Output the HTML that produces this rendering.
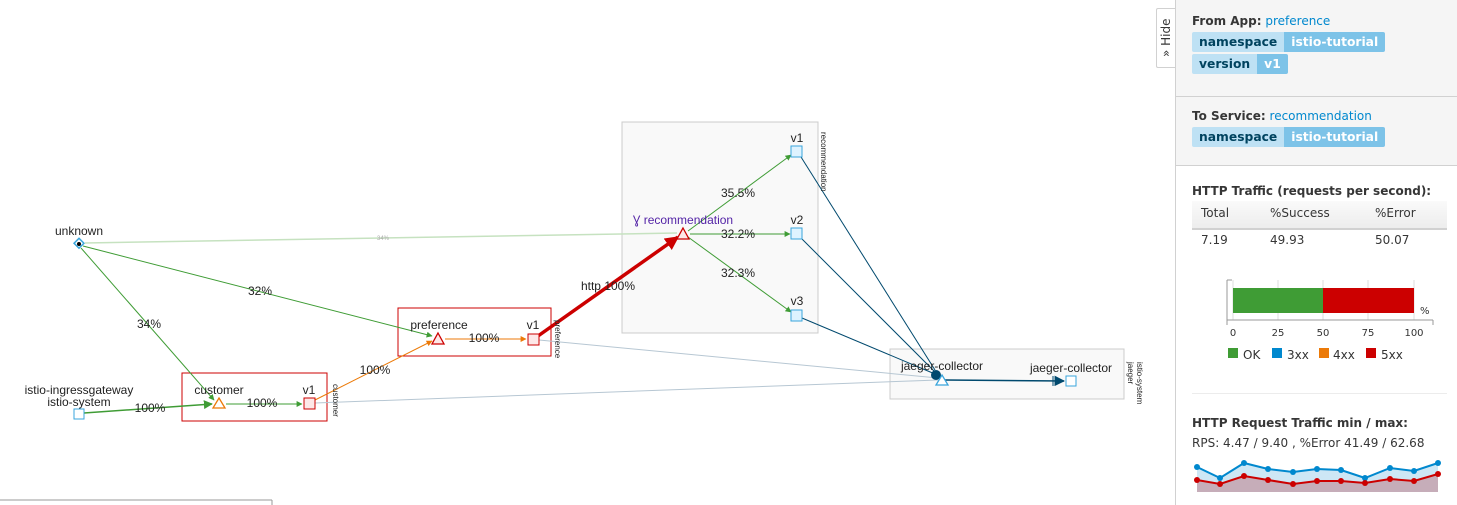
<!DOCTYPE html>
<html><head><meta charset="utf-8"><style>
body{margin:0;width:1457px;height:505px;overflow:hidden;background:#fff;font-family:"Liberation Sans","DejaVu Sans",sans-serif;position:relative}
#panel{position:absolute;left:1175px;top:0;width:282px;height:505px;border-left:1px solid #d1d1d1;font-family:"DejaVu Sans",sans-serif;font-size:12px;color:#363636}
.sec{background:#f5f5f5;border-bottom:1px solid #d1d1d1;padding:14px 0 0 16px;box-sizing:border-box}
.b{font-weight:bold}
.lnk{color:#0088ce}
.lab{display:inline-flex;font-weight:bold;font-size:12.3px;margin-top:4px;border-radius:2px;overflow:hidden}
.lab span{padding:3px 7px 3px 7px}
.k{background:#bee1f4;color:#00435f}.v{background:#7dc3e8;color:#fff}
</style></head><body>
<svg width="1175" height="505" style="position:absolute;left:0;top:0" font-family="Liberation Sans,sans-serif" font-size="12">
<defs>
<marker id="ag" viewBox="0 0 10 10" refX="9" refY="5" markerWidth="6" markerHeight="6" orient="auto"><path d="M0,0L10,5L0,10z" fill="#3f9c35"/></marker>
<marker id="ao" viewBox="0 0 10 10" refX="9" refY="5" markerWidth="6" markerHeight="6" orient="auto"><path d="M0,0L10,5L0,10z" fill="#ec7a08"/></marker>
<marker id="ar" viewBox="0 0 10 10" refX="9" refY="5" markerWidth="4" markerHeight="4" orient="auto"><path d="M0,0L10,5L0,10z" fill="#cc0000"/></marker>
<marker id="ab" viewBox="0 0 10 10" refX="9" refY="5" markerWidth="7" markerHeight="7" orient="auto"><path d="M0,0L10,5L0,10z" fill="#00496e"/></marker>
</defs>
<rect x="622" y="122" width="196" height="211" fill="#f9f9f9" stroke="#ccc"/>
<rect x="890" y="349" width="234" height="50" fill="#f9f9f9" stroke="#ccc"/>
<rect x="398" y="308" width="153" height="48" fill="#fff" stroke="#cc0000"/>
<rect x="182" y="373" width="145" height="48" fill="#fff" stroke="#cc0000"/>
<line x1="0" y1="500" x2="272" y2="500" stroke="#999"/>
<line x1="272" y1="500" x2="272" y2="505" stroke="#999"/>
<line x1="85" y1="243" x2="677" y2="233" stroke="#c6e2c0" stroke-width="1.5"/>
<text x="377" y="240" font-size="6" fill="#aaa">34%</text>
<line x1="83" y1="246" x2="432" y2="336" stroke="#3f9c35" marker-end="url(#ag)"/>
<line x1="81" y1="248" x2="214" y2="400" stroke="#3f9c35" marker-end="url(#ag)"/>
<line x1="84" y1="413" x2="212" y2="404" stroke="#3f9c35" stroke-width="1.5" marker-end="url(#ag)"/>
<line x1="226" y1="404" x2="302" y2="404" stroke="#3f9c35" marker-end="url(#ag)"/>
<line x1="315" y1="400" x2="432" y2="341" stroke="#ec7a08" marker-end="url(#ao)"/>
<line x1="445" y1="339" x2="526" y2="339" stroke="#ec7a08" marker-end="url(#ao)"/>
<line x1="538" y1="336" x2="678" y2="237" stroke="#cc0000" stroke-width="3.5" marker-end="url(#ar)"/>
<line x1="688" y1="231" x2="791" y2="155" stroke="#3f9c35" marker-end="url(#ag)"/>
<line x1="690" y1="234" x2="790" y2="234" stroke="#3f9c35" marker-end="url(#ag)"/>
<line x1="688" y1="237" x2="791" y2="312" stroke="#3f9c35" marker-end="url(#ag)"/>
<line x1="539" y1="340" x2="938" y2="378" stroke="#b7c7d3"/>
<line x1="315" y1="403" x2="938" y2="380" stroke="#b7c7d3"/>
<line x1="801" y1="157" x2="935" y2="370" stroke="#00496e"/>
<line x1="801" y1="238" x2="935" y2="372" stroke="#00496e"/>
<line x1="802" y1="318" x2="935" y2="374" stroke="#00496e"/>
<circle cx="936" cy="375" r="5" fill="#00496e"/>
<line x1="945" y1="380" x2="1064" y2="381" stroke="#00496e" stroke-width="1.5" marker-end="url(#ab)"/>
<line x1="1053" y1="376" x2="1053" y2="386" stroke="#00496e"/>
<g fill="#222" text-anchor="middle">
<text x="260" y="295">32%</text><text x="149" y="328">34%</text>
<text x="150" y="412">100%</text><text x="262" y="407">100%</text>
<text x="375" y="374">100%</text><text x="484" y="342">100%</text>
<text x="608" y="290">http 100%</text>
<text x="738" y="197">35.5%</text><text x="738" y="238">32.2%</text><text x="738" y="277">32.3%</text>
<text x="79" y="235">unknown</text>
<text x="79" y="394">istio-ingressgateway</text><text x="79" y="406">istio-system</text>
<text x="219" y="394">customer</text><text x="309" y="394">v1</text>
<text x="439" y="329">preference</text><text x="533" y="329">v1</text>
<text x="797" y="142">v1</text><text x="797" y="224">v2</text><text x="797" y="305">v3</text>
<text x="942" y="370">jaeger-collector</text><text x="1071" y="372">jaeger-collector</text>
</g>
<text x="683" y="224" text-anchor="middle" fill="#5323a6">Ɣ recommendation</text>
<g font-size="8" fill="#222">
<text transform="translate(333,384) rotate(90)">customer</text>
<text transform="translate(555,320) rotate(90)">preference</text>
<text transform="translate(821,132) rotate(90)">recommendation</text>
<text transform="translate(1128,362) rotate(90)">jaeger</text>
<text transform="translate(1137,362) rotate(90)">istio-system</text>
</g>
<rect x="75" y="240" width="7" height="7" transform="rotate(45 79 244)" fill="#fff" stroke="#39a5dc" stroke-width="1.5"/>
<circle cx="79" cy="244" r="2" fill="#000"/>
<rect x="74" y="409" width="10" height="10" fill="#fff" stroke="#39a5dc"/>
<rect x="1066" y="376" width="10" height="10" fill="#fff" stroke="#39a5dc"/>
<path d="M219,398L225,408L213,408z" fill="#fff" stroke="#ec7a08" stroke-width="1.3"/>
<rect x="304" y="398" width="11" height="11" fill="#fde8e8" stroke="#cc0000"/>
<path d="M438,333L444,344L432,344z" fill="#fde8e8" stroke="#cc0000" stroke-width="1.3"/>
<rect x="528" y="334" width="11" height="11" fill="#fde8e8" stroke="#cc0000"/>
<path d="M683,228L689,239L677,239z" fill="#fde8e8" stroke="#cc0000" stroke-width="1.3"/>
<rect x="791" y="146" width="11" height="11" fill="#def3ff" stroke="#39a5dc"/>
<rect x="791" y="228" width="11" height="11" fill="#def3ff" stroke="#39a5dc"/>
<rect x="791" y="310" width="11" height="11" fill="#def3ff" stroke="#39a5dc"/>
<path d="M942,375L948,385L936,385z" fill="#fff" stroke="#39a5dc" stroke-width="1.3"/>
</svg>
<div style="position:absolute;left:1156px;top:8px;width:19px;height:58px;border:1px solid #d1d1d1;border-right:none;background:#fff;border-radius:2px 0 0 2px;font-family:'DejaVu Sans',sans-serif;font-size:12px;color:#363636"><div style="position:absolute;left:2px;top:48px;transform:rotate(-90deg);transform-origin:0 0;white-space:nowrap">» Hide</div></div>
<div id="panel">
<div class="sec" style="height:97px;padding-top:14px"><span class="b">From App:</span> <span class="lnk">preference</span><br><div class="lab"><span class="k">namespace</span><span class="v">istio-tutorial</span></div><br><div class="lab" style="margin-top:2px"><span class="k">version</span><span class="v">v1</span></div></div>
<div class="sec" style="height:69px;padding-top:12px"><span class="b">To Service:</span> <span class="lnk">recommendation</span><br><div class="lab"><span class="k">namespace</span><span class="v">istio-tutorial</span></div></div>
<div style="position:absolute;left:16px;top:184px" class="b">HTTP Traffic (requests per second):</div>
<div style="position:absolute;left:16px;top:201px;width:255px;height:27px;background:linear-gradient(#fafafa,#ededed);border-bottom:2px solid #d1d1d1"></div>
<div style="position:absolute;left:25px;top:206px">Total</div><div style="position:absolute;left:94px;top:206px">%Success</div><div style="position:absolute;left:199px;top:206px">%Error</div>
<div style="position:absolute;left:25px;top:233px">7.19</div><div style="position:absolute;left:94px;top:233px">49.93</div><div style="position:absolute;left:199px;top:233px">50.07</div>
<svg style="position:absolute;left:0;top:270px" width="282" height="100" font-family="DejaVu Sans,sans-serif" font-size="10" fill="#333">
<g stroke="#ddd"><line x1="57" y1="10" x2="57" y2="50"/><line x1="102" y1="10" x2="102" y2="50"/><line x1="147" y1="10" x2="147" y2="50"/><line x1="192" y1="10" x2="192" y2="50"/><line x1="238" y1="10" x2="238" y2="50"/></g>
<rect x="57" y="18" width="90" height="25" fill="#3f9c35"/><rect x="147" y="18" width="91" height="25" fill="#cc0000"/>
<g stroke="#999"><line x1="51" y1="50" x2="257" y2="50"/><line x1="51" y1="50" x2="51" y2="55"/><line x1="257" y1="50" x2="257" y2="55"/><line x1="51" y1="50" x2="51" y2="10"/><line x1="51" y1="10" x2="56" y2="10"/></g>
<text x="244" y="44">%</text>
<text x="57" y="66" text-anchor="middle">0</text><text x="102" y="66" text-anchor="middle">25</text><text x="147" y="66" text-anchor="middle">50</text><text x="192" y="66" text-anchor="middle">75</text><text x="238" y="66" text-anchor="middle">100</text>
<g font-size="12"><rect x="52" y="78" width="10" height="10" fill="#3f9c35"/><text x="67" y="89">OK</text><rect x="96" y="78" width="10" height="10" fill="#0088ce"/><text x="111" y="89">3xx</text><rect x="143" y="78" width="10" height="10" fill="#ec7a08"/><text x="157" y="89">4xx</text><rect x="190" y="78" width="10" height="10" fill="#cc0000"/><text x="205" y="89">5xx</text></g>
</svg>
<div style="position:absolute;left:16px;top:393px;width:255px;border-top:1px solid #ececec"></div>
<div style="position:absolute;left:16px;top:416px" class="b">HTTP Request Traffic min / max:</div>
<div style="position:absolute;left:16px;top:436px">RPS: 4.47 / 9.40 , %Error 41.49 / 62.68</div>
<svg style="position:absolute;left:0;top:455px" width="282" height="45">
<path d="M21,12L44,23L68,8L92,14L117,17L141,14L165,15L189,23L214,13L238,16L262,8L262,37L21,37z" fill="#cde7f5"/>
<path d="M21,25L44,29L68,21L92,25L117,29L141,26L165,26L189,28L214,24L238,26L262,19L262,37L21,37z" fill="#c6adb9"/>
<path d="M21,12L44,23L68,8L92,14L117,17L141,14L165,15L189,23L214,13L238,16L262,8" fill="none" stroke="#0088ce" stroke-width="2"/>
<path d="M21,25L44,29L68,21L92,25L117,29L141,26L165,26L189,28L214,24L238,26L262,19" fill="none" stroke="#cc0000" stroke-width="2"/>
<g fill="#0088ce"><circle cx="21" cy="12" r="3"/><circle cx="44" cy="23" r="3"/><circle cx="68" cy="8" r="3"/><circle cx="92" cy="14" r="3"/><circle cx="117" cy="17" r="3"/><circle cx="141" cy="14" r="3"/><circle cx="165" cy="15" r="3"/><circle cx="189" cy="23" r="3"/><circle cx="214" cy="13" r="3"/><circle cx="238" cy="16" r="3"/><circle cx="262" cy="8" r="3"/></g>
<g fill="#cc0000"><circle cx="21" cy="25" r="3"/><circle cx="44" cy="29" r="3"/><circle cx="68" cy="21" r="3"/><circle cx="92" cy="25" r="3"/><circle cx="117" cy="29" r="3"/><circle cx="141" cy="26" r="3"/><circle cx="165" cy="26" r="3"/><circle cx="189" cy="28" r="3"/><circle cx="214" cy="24" r="3"/><circle cx="238" cy="26" r="3"/><circle cx="262" cy="19" r="3"/></g>
</svg>
</div>
</body></html>
